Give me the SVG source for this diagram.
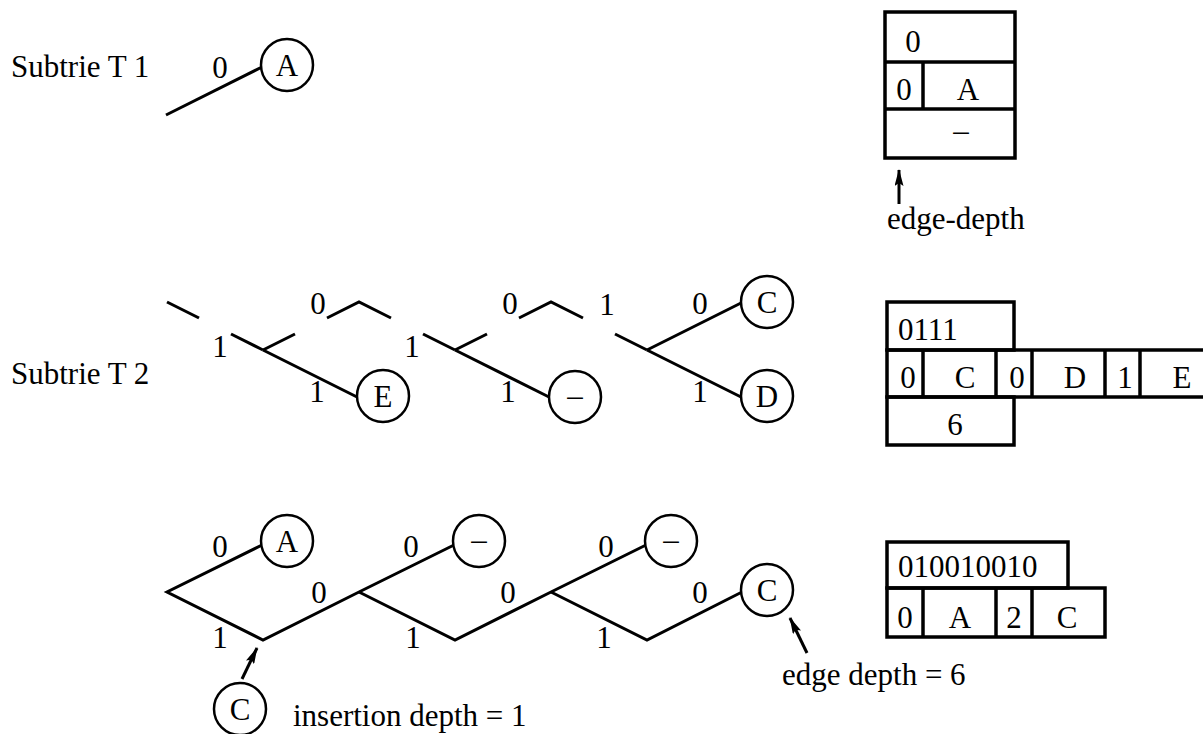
<svg xmlns="http://www.w3.org/2000/svg" width="1203" height="734" viewBox="0 0 1203 734">
<defs>
<style>
text{font-family:"Liberation Serif","Times New Roman",serif;font-size:31px;fill:#000}
.m{text-anchor:middle}
.e{fill:none;stroke:#000;stroke-width:3;stroke-linecap:butt;stroke-linejoin:miter}
.n{fill:#fff;stroke:#000;stroke-width:2.5}
.b{fill:none;stroke:#000;stroke-width:3.5}
.a{fill:none;stroke:#000;stroke-width:3}
</style>
<marker id="ah" viewBox="0 0 17 9" refX="16" refY="4.5" markerWidth="17" markerHeight="9" orient="auto" markerUnits="userSpaceOnUse">
<path d="M0,0 L17,4.5 L0,9 L3,4.5 Z" fill="#000"/>
</marker>
</defs>
<rect width="1203" height="734" fill="#fff"/>

<g id="labels">
<text x="11" y="77">Subtrie T 1</text>
<text x="11" y="384">Subtrie T 2</text>
<text x="887" y="229">edge-depth</text>
<text x="293" y="726">insertion depth = 1</text>
<text x="782" y="685">edge depth = 6</text>
</g>

<g id="connectors">
<line class="e" x1="166" y1="115" x2="262" y2="67"/>
<line class="e" x1="167" y1="302" x2="199" y2="318"/>
<line class="e" x1="231" y1="334" x2="263" y2="350"/>
<line class="e" x1="263" y1="350" x2="295" y2="334"/>
<line class="e" x1="263" y1="350" x2="357" y2="397"/>
<polyline class="e" points="327,318 359,302 391,318"/>
<line class="e" x1="423" y1="334" x2="455" y2="350"/>
<line class="e" x1="455" y1="350" x2="487" y2="334"/>
<line class="e" x1="455" y1="350" x2="549" y2="397"/>
<polyline class="e" points="519,318 551,302 583,318"/>
<line class="e" x1="615" y1="334" x2="647" y2="350"/>
<line class="e" x1="647" y1="350" x2="741" y2="303"/>
<line class="e" x1="647" y1="350" x2="741" y2="397"/>
<polyline class="e" points="262,545 167,592 263,640 359,592 454,545"/>
<polyline class="e" points="359,592 455,640 551,592 646,545"/>
<polyline class="e" points="551,592 647,640 742,592"/>
<line class="a" x1="899" y1="204" x2="899" y2="170" marker-end="url(#ah)"/>
<line class="a" x1="242" y1="679" x2="257" y2="648" marker-end="url(#ah)"/>
<line class="a" x1="807" y1="653" x2="790" y2="618" marker-end="url(#ah)"/>
</g>

<g id="edge-labels">
<text class="m" x="220" y="78">0</text>
<text class="m" x="220" y="357">1</text>
<text class="m" x="318" y="314">0</text>
<text class="m" x="317" y="402">1</text>
<text class="m" x="412" y="357">1</text>
<text class="m" x="510" y="314">0</text>
<text class="m" x="508" y="402">1</text>
<text class="m" x="607" y="315">1</text>
<text class="m" x="700" y="314">0</text>
<text class="m" x="700" y="402">1</text>
<text class="m" x="220" y="557">0</text>
<text class="m" x="220" y="648">1</text>
<text class="m" x="319" y="603">0</text>
<text class="m" x="411" y="557">0</text>
<text class="m" x="413" y="648">1</text>
<text class="m" x="508" y="603">0</text>
<text class="m" x="606" y="557">0</text>
<text class="m" x="604" y="648">1</text>
<text class="m" x="700" y="603">0</text>
</g>

<g id="t1-A"><circle class="n" cx="287" cy="65" r="26"/><text class="m" x="287" y="76">A</text></g>
<g id="t2-E"><circle class="n" cx="383" cy="396" r="26"/><text class="m" x="383" y="407">E</text></g>
<g id="t2-empty"><circle class="n" cx="575" cy="397" r="26"/><text class="m" x="575" y="406">–</text></g>
<g id="t2-C"><circle class="n" cx="767" cy="302" r="26"/><text class="m" x="767" y="313">C</text></g>
<g id="t2-D"><circle class="n" cx="767" cy="396" r="26"/><text class="m" x="767" y="407">D</text></g>
<g id="t3-A"><circle class="n" cx="287" cy="541" r="26"/><text class="m" x="287" y="552">A</text></g>
<g id="t3-empty1"><circle class="n" cx="479" cy="541" r="26"/><text class="m" x="479" y="550">–</text></g>
<g id="t3-empty2"><circle class="n" cx="671" cy="541" r="26"/><text class="m" x="671" y="550">–</text></g>
<g id="t3-C"><circle class="n" cx="767" cy="590" r="26"/><text class="m" x="767" y="601">C</text></g>
<g id="ins-C"><circle class="n" cx="240" cy="709" r="26"/><text class="m" x="240" y="720">C</text></g>

<g id="table-t1">
<rect class="b" x="885" y="12" width="130" height="146"/>
<line class="b" x1="885" y1="62" x2="1015" y2="62"/>
<line class="b" x1="885" y1="109" x2="1015" y2="109"/>
<line class="b" x1="923" y1="62" x2="923" y2="109"/>
<text class="m" x="913" y="52">0</text>
<text class="m" x="904" y="100">0</text>
<text class="m" x="968" y="100">A</text>
<text class="m" x="961" y="141">–</text>
</g>

<g id="table-t2">
<rect class="b" x="887" y="302" width="127" height="48"/>
<rect class="b" x="887" y="350" width="320" height="47"/>
<rect class="b" x="887" y="397" width="127" height="48"/>
<line class="b" x1="923" y1="350" x2="923" y2="397"/>
<line class="b" x1="996" y1="350" x2="996" y2="397"/>
<line class="b" x1="1032" y1="350" x2="1032" y2="397"/>
<line class="b" x1="1105" y1="350" x2="1105" y2="397"/>
<line class="b" x1="1140" y1="350" x2="1140" y2="397"/>
<text x="898" y="340">0111</text>
<text class="m" x="908" y="388">0</text>
<text class="m" x="965" y="388">C</text>
<text class="m" x="1017" y="388">0</text>
<text class="m" x="1075" y="388">D</text>
<text class="m" x="1125" y="388">1</text>
<text class="m" x="1182" y="388">E</text>
<text class="m" x="955" y="435">6</text>
</g>

<g id="table-t3">
<rect class="b" x="887" y="542" width="181" height="46"/>
<rect class="b" x="887" y="588" width="218" height="49"/>
<line class="b" x1="923" y1="588" x2="923" y2="637"/>
<line class="b" x1="996" y1="588" x2="996" y2="637"/>
<line class="b" x1="1032" y1="588" x2="1032" y2="637"/>
<text x="898" y="577">010010010</text>
<text class="m" x="905" y="628">0</text>
<text class="m" x="960" y="628">A</text>
<text class="m" x="1014" y="628">2</text>
<text class="m" x="1067" y="628">C</text>
</g>
</svg>
